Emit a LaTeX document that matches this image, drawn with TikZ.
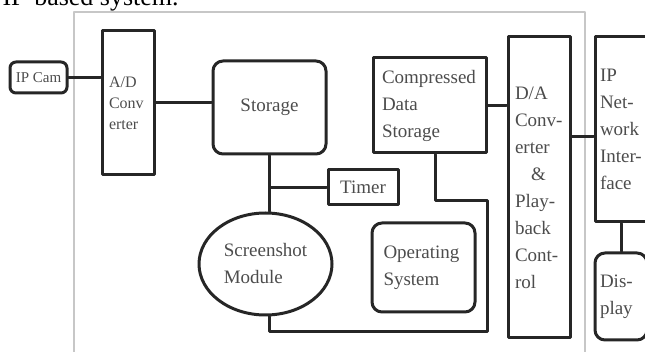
\documentclass[tikz,border=0pt]{standalone}
\usepackage{fontspec}
\setmainfont{Liberation Serif}
\usetikzlibrary{shapes.geometric}
\begin{document}
\begin{tikzpicture}[x=1pt, y=-1pt, line join=round, line cap=round, color=black!85, line width=3pt]
	\tikzset{every node/.style={font=\fontsize{19}{27}\selectfont, text=black!70},
		blk/.style={draw, line width=3pt, align=left, inner ysep=0pt},
		rblk/.style={blk, rounded corners=10pt}}
	\useasboundingbox (0,0) rectangle (645,352);
	\node[anchor=base west, inner sep=0pt, font=\fontsize{26}{30}\selectfont, text=black] (title) at (1,6) {IP-based system.};
	\draw[black!22, line width=2pt] (74,12) rectangle (585,365);
	\node[rblk, rounded corners=6pt, font=\fontsize{15}{18}\selectfont, minimum width=57pt, minimum height=31pt, inner sep=0pt] (cam) at (38.5,77.5) {IP Cam};
	\node[blk, font=\fontsize{16}{21}\selectfont, text width=38pt, inner xsep=7pt, minimum height=144pt] (adc) at (128,103) {A/D\\Conv\\erter\\[4pt]};
	\node[rblk, minimum width=113pt, minimum height=93pt] (storage) at (269.5,107.5) {Storage};
	\node[blk, text width=95pt, inner xsep=9pt, minimum height=95pt] (cds) at (429.5,105.5) {Compressed\\Data\\Storage};
	\node[blk, minimum width=70pt, minimum height=35pt] (timer) at (363,187.5) {Timer};
	\node[ellipse, draw, line width=3pt, align=left, minimum width=133pt, minimum height=102pt, inner sep=0pt] (shot) at (265.5,264) {Screenshot\\Module};
	\node[rblk, text width=80pt, inner xsep=11.5pt, minimum height=89pt] (os) at (423.5,267.5) {Operating\\System};
	\node[blk, text width=48pt, inner xsep=7pt, minimum height=301pt] (dac) at (539,187.5) {D/A\\Conv-\\erter\\\hspace*{16pt}\&\\Play-\\back\\Cont-\\rol};
	\node[blk, text width=42pt, inner xsep=5pt, minimum height=185pt] (net) at (621,129.5) {IP\\Net-\\work\\Inter-\\face};
	\node[rblk, text width=42pt, inner xsep=5pt, minimum height=87pt] (disp) at (621,296.5) {Dis-\\play};
	\foreach \a/\b in {cam/adc,adc/storage,cds/dac}
	\draw (\a.east) -- (\a.east -| \b.west);
	\draw ([yshift=-7.5pt]net.west -| dac.east) -- ([yshift=-7.5pt]net.west);
	\draw (storage.south) -- (storage.south |- shot.north);
	\draw (storage.south |- timer.west) -- (timer.west);
	\coordinate (lowturn) at (cds.east |- 0,332);
	\coordinate (upturn) at (435,201);
	\draw (storage.south |- shot.south) |- (lowturn) |- (upturn) -- (upturn |- cds.south);
	\draw (net.south) -- (disp.north);
\end{tikzpicture}
\end{document}
